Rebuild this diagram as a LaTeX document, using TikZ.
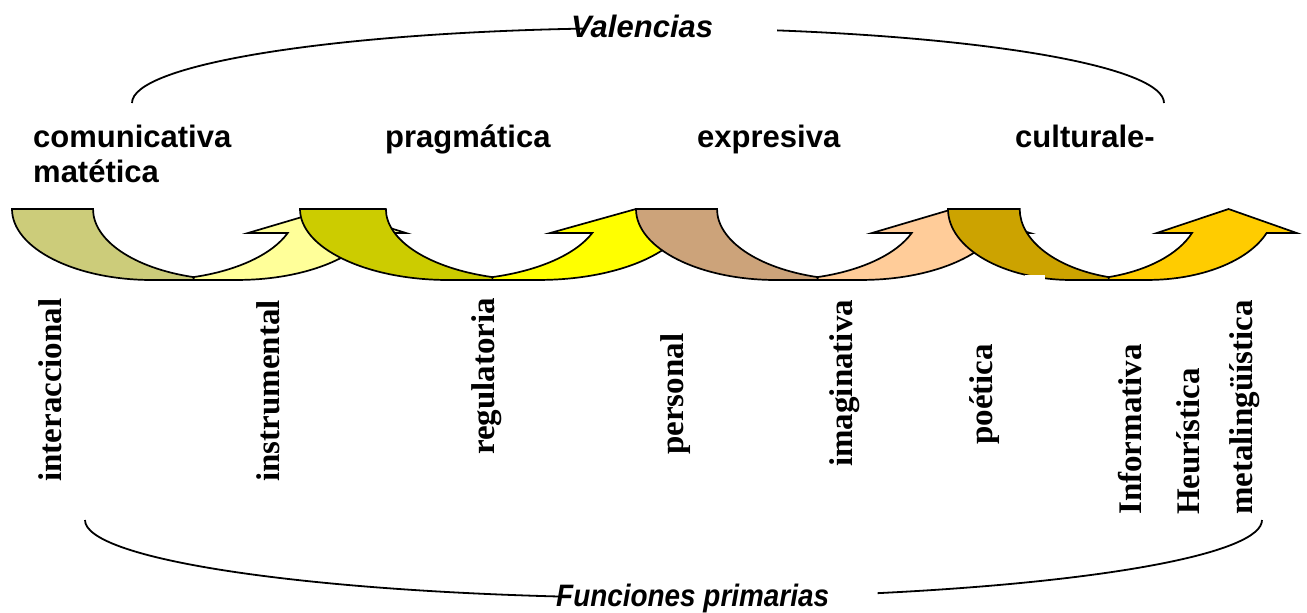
\documentclass[tikz,border=0pt]{standalone}
\usepackage{fontspec}
\setmainfont{Liberation Serif}
\newfontfamily\arialfont{Liberation Sans}
\usepackage{tikz}

\definecolor{khakidark}{RGB}{204,204,122}
\definecolor{khakilight}{RGB}{255,255,153}
\definecolor{oliva}{RGB}{204,204,0}
\definecolor{amarillo}{RGB}{255,255,0}
\definecolor{tostado}{RGB}{204,163,122}
\definecolor{melocoton}{RGB}{255,204,153}
\definecolor{ocre}{RGB}{204,163,0}
\definecolor{oro}{RGB}{255,204,0}

% curved up arrow: #1 left x, #2 x-scale, #3 back colour, #4 front colour
\newcommand{\uturn}[4]{%
\begin{scope}[shift={(#1,209)}, xscale=#2]
\filldraw[arrowline, fill=#4] (181.5,68.1) arc[start angle=73.6, end angle=19.8, x radius=143, y radius=71]
  -- (236,24) -- (317,0) -- (394,24) -- (360,24)
  arc[start angle=19.8, end angle=90, x radius=143, y radius=71] -- (181.5,71) -- cycle;
\filldraw[arrowline, fill=#3] (0,0) arc[start angle=180, end angle=90, x radius=140, y radius=71]
  -- (181.5,71) -- (181.5,68.1)
  arc[start angle=106.4, end angle=180, x radius=140, y radius=71] -- cycle;
\end{scope}}

\begin{document}
\begin{tikzpicture}[x=1pt, y=-1pt,
  valencia/.style={font=\arialfont\bfseries\fontsize{31}{36}\selectfont, inner sep=0pt, anchor=base west},
  titulo/.style={font=\arialfont\bfseries\itshape\fontsize{31}{36}\selectfont, inner sep=0pt, anchor=base west},
  funcion/.style={font=\bfseries\fontsize{33}{36}\selectfont, rotate=90, anchor=west, inner sep=0pt},
  arrowline/.style={draw=black, line width=1.7pt},
  brace/.style={line width=1.8pt}]
\useasboundingbox (0,0) rectangle (1307,613);

% Top arc
\draw[brace] (132,103) arc[start angle=180, end angle=263, x radius=516, y radius=75];
\draw[brace] ([shift={(284.5:516 and 75)}]648,103) arc[start angle=284.5, end angle=360, x radius=516, y radius=75];
\node[titulo] (valencias) at (571,37) {Valencias};

% Valencias
\node[valencia] (comunicativa) at (33,147) {comunicativa};
\node[valencia] (matetica) at (33,182) {matética};
\node[valencia] (pragmatica) at (385,147) {pragmática};
\node[valencia] (expresiva) at (697,147) {expresiva};
\node[valencia] (culturale) at (1015,147) {culturale-};

% Arrows
\uturn{12}{1}{khakidark}{khakilight}
\uturn{300}{1.06}{oliva}{amarillo}
\uturn{636}{1}{tostado}{melocoton}
\uturn{948}{0.885}{ocre}{oro}
\fill[white] (1025,275) rectangle (1045,283);

% Funciones
\node[funcion] (interaccional) at (50,482) {interaccional};
\node[funcion] (instrumental) at (268,482) {instrumental};
\node[funcion] (regulatoria) at (487,455) {regulatoria};
\node[funcion] (personal) at (676,455) {personal};
\node[funcion] (imaginativa) at (845,467) {imaginativa};
\node[funcion] (poetica) at (985,445) {poética};
\node[funcion] (informativa) at (1130,515) {Informativa};
\node[funcion] (heuristica) at (1188,515) {Heurística};
\node[funcion] (metalinguistica) at (1245,515) {metalingüística};

% Bottom arc
\draw[brace] (85,520) arc[start angle=180, end angle=100.6, x radius=588.5, y radius=78];
\draw[brace] ([shift={(69.7:588.5 and 78)}]673.5,520) arc[start angle=69.7, end angle=0, x radius=588.5, y radius=78];
\node[titulo] (funciones) at (556,606) {\scalebox{0.9}[1]{Funciones primarias}};
\end{tikzpicture}
\end{document}
